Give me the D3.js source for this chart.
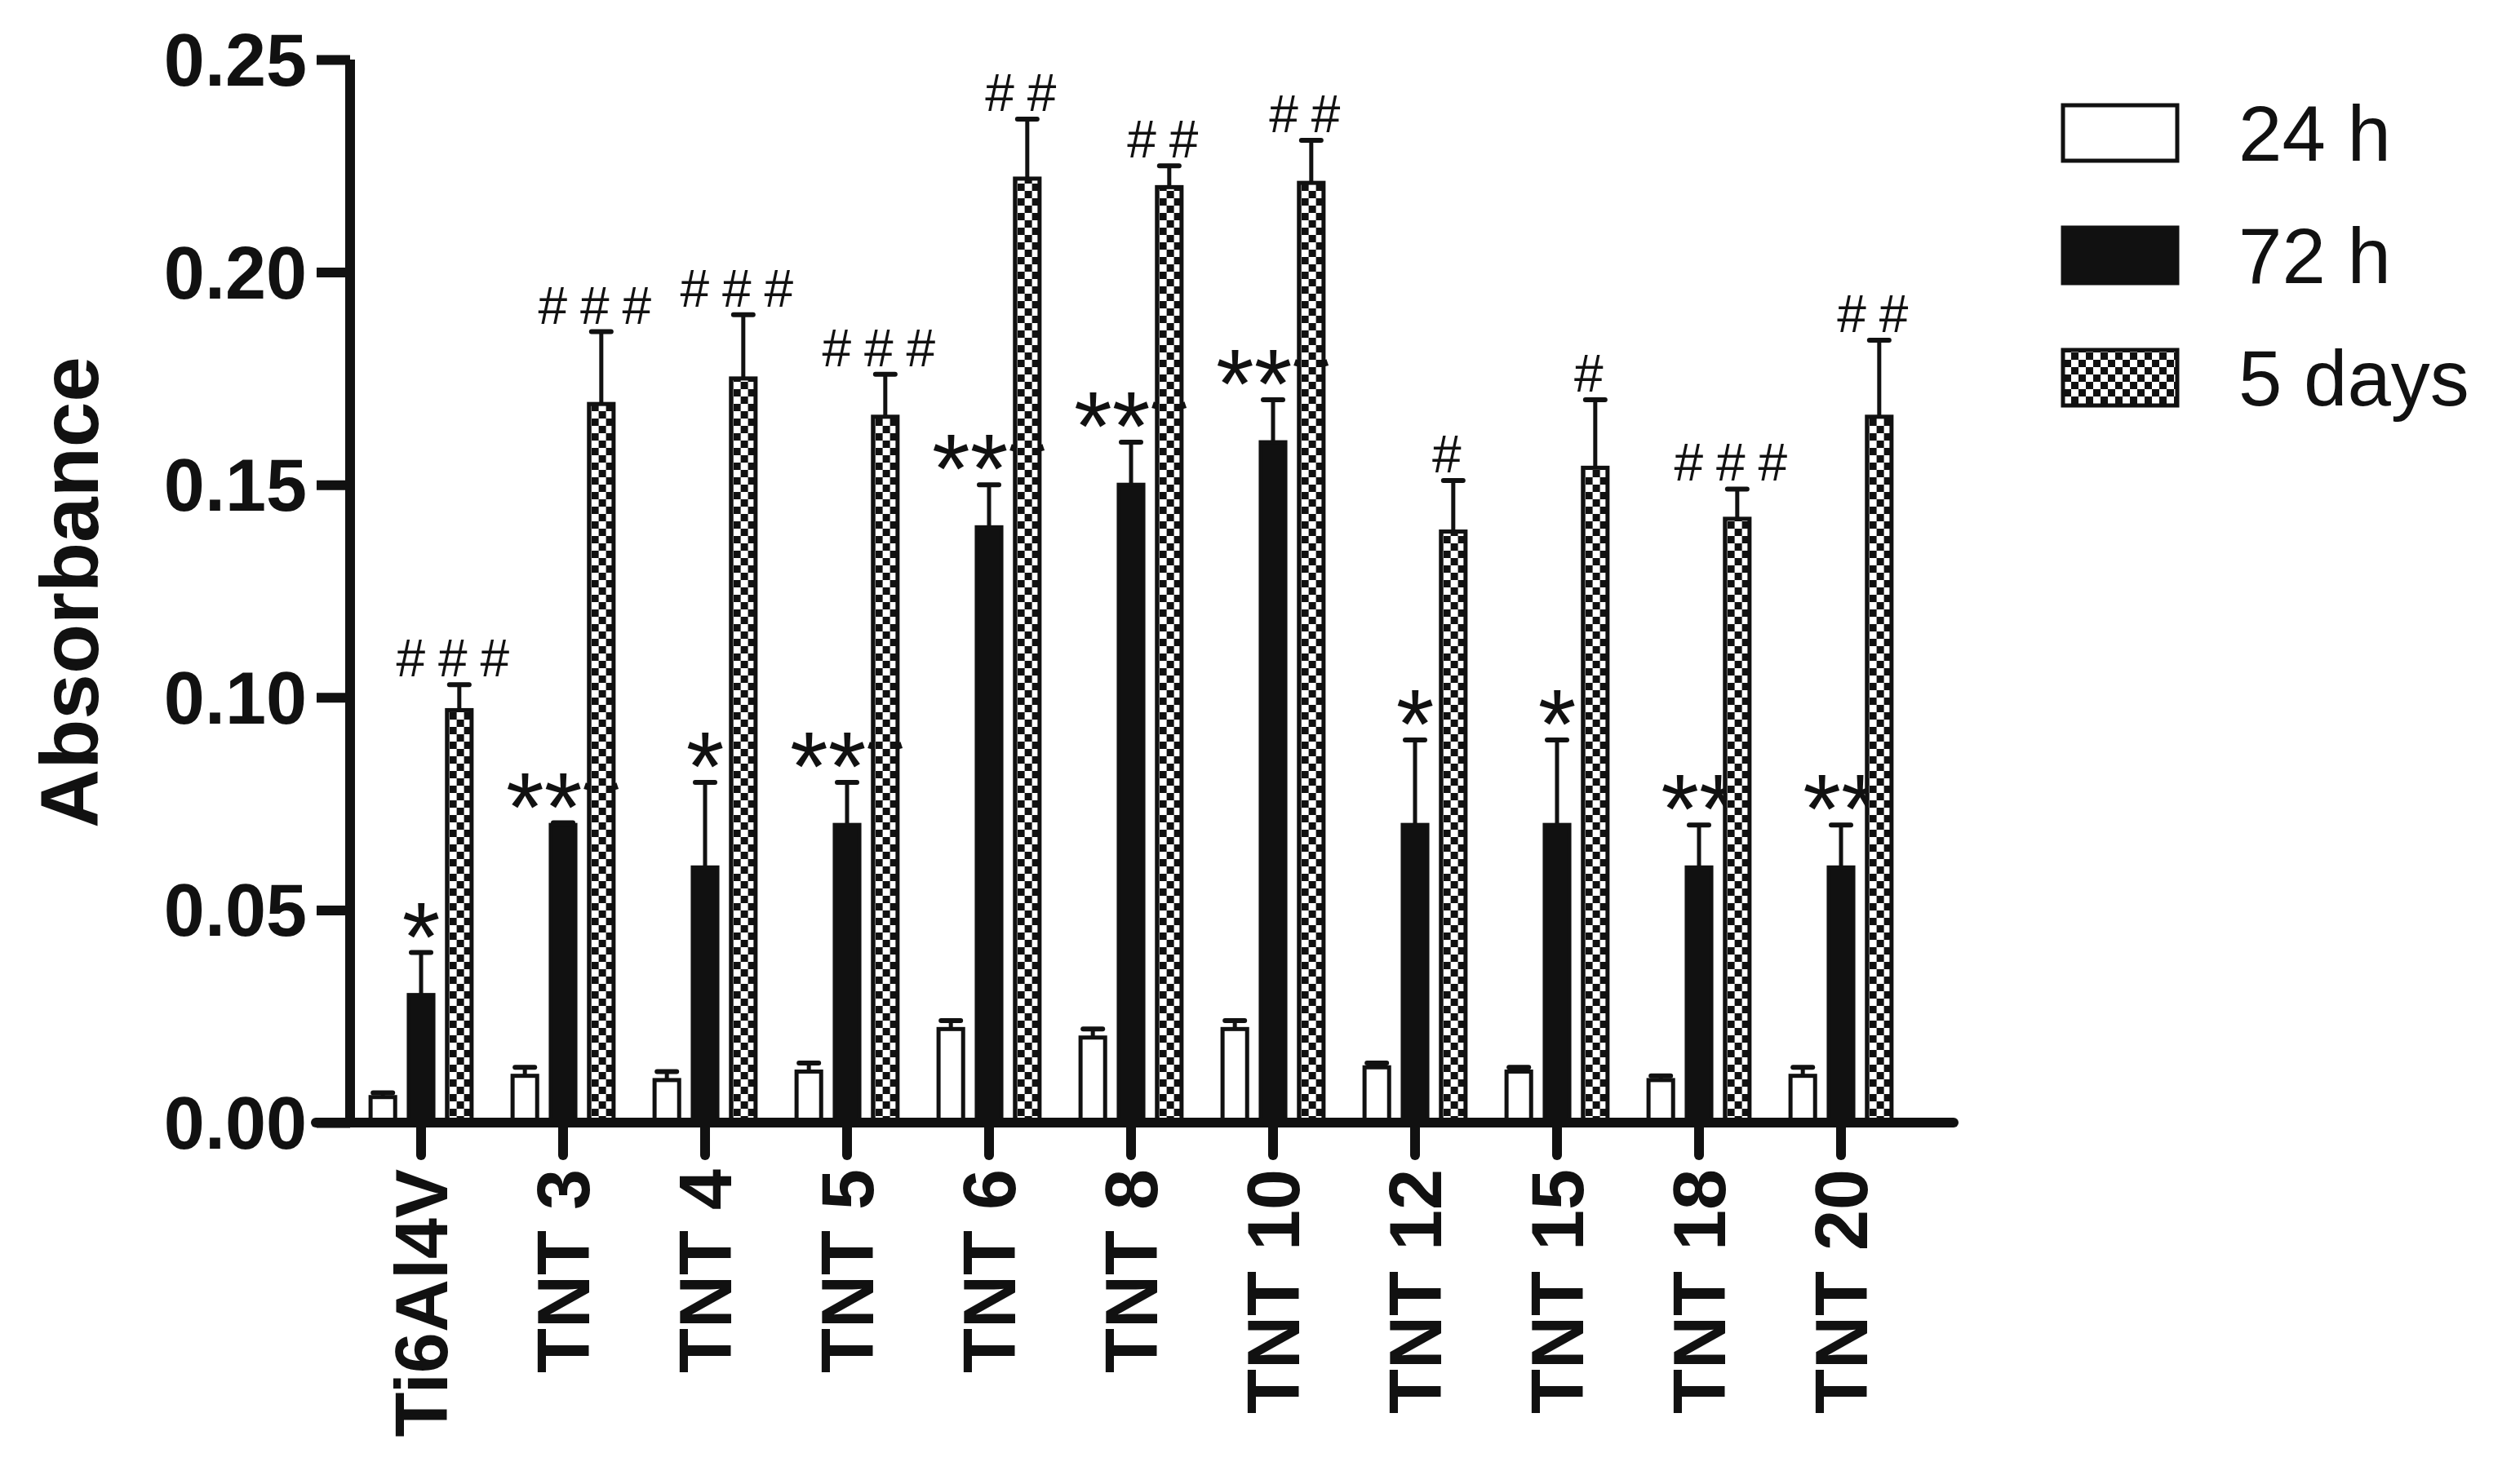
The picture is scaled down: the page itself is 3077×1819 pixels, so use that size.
<!DOCTYPE html>
<html><head><meta charset="utf-8">
<script src="https://cdn.jsdelivr.net/npm/d3@7"></script>
<style>body{margin:0;background:#fff}</style></head>
<body><svg id="c" width="3077" height="1819"></svg>
<script>
const categories=["Ti6Al4V","TNT 3","TNT 4","TNT 5","TNT 6","TNT 8","TNT 10","TNT 12","TNT 15","TNT 18","TNT 20"];
const seriesNames=["24 h","72 h","5 days"];
const v24=[0.006,0.011,0.010,0.012,0.022,0.020,0.022,0.013,0.012,0.010,0.011];
const e24=[0.001,0.002,0.002,0.002,0.002,0.002,0.002,0.001,0.001,0.001,0.002];
const v72=[0.03,0.07,0.06,0.07,0.14,0.15,0.16,0.07,0.07,0.06,0.06];
const e72=[0.01,0.0005,0.02,0.01,0.01,0.01,0.01,0.02,0.02,0.01,0.01];
const v5d=[0.097,0.169,0.175,0.166,0.222,0.220,0.221,0.139,0.154,0.142,0.166];
const e5d=[0.006,0.017,0.015,0.010,0.014,0.005,0.010,0.012,0.016,0.007,0.018];
const stars=["*","***","*","***","***","***","***","*","*","**","**"];
const hashes=["###","###","###","###","##","##","##","#","#","###","##"];
const yTicks=[0,0.05,0.10,0.15,0.20,0.25];

const svg=d3.select("#c");
const defs=svg.append("defs");
const p=defs.append("pattern").attr("id","chk").attr("patternUnits","userSpaceOnUse").attr("width",18).attr("height",18);
p.append("rect").attr("width",18).attr("height",18).attr("fill","#fff");
p.append("rect").attr("width",9).attr("height",9).attr("fill","#111");
p.append("rect").attr("x",9).attr("y",9).attr("width",9).attr("height",9).attr("fill","#111");

const x0=429, x1=2394, yTop=73, yBot=1376;
const x=d3.scaleBand().domain(categories).range([429,2343]).paddingInner(0.26).paddingOuter(0.13);
const y=d3.scaleLinear().domain([0,0.25]).range([yBot,yTop]);
const xs=d3.scaleBand().domain(seriesNames).range([0,x.bandwidth()]).paddingInner(0.25);
const fills=["#fff","#111","url(#chk)"];
const vals=[v24,v72,v5d], errs=[e24,e72,e5d];
const ink="#111";

categories.forEach((c,i)=>{
  const g=svg.append("g").attr("transform",`translate(${x(c)},0)`);
  seriesNames.forEach((s,k)=>{
    const bx=xs(s), bw=xs.bandwidth(), v=vals[k][i], e=errs[k][i];
    const cx=bx+bw/2;
    g.append("line").attr("x1",cx).attr("x2",cx).attr("y1",y(v)).attr("y2",y(v+e)).attr("stroke",ink).attr("stroke-width",5);
    g.append("line").attr("x1",cx-12).attr("x2",cx+12).attr("y1",y(v+e)).attr("y2",y(v+e)).attr("stroke",ink).attr("stroke-width",6).attr("stroke-linecap","round");
    g.append("rect").attr("x",bx+2.5).attr("y",y(v)).attr("width",bw-5).attr("height",yBot-y(v))
      .attr("fill",fills[k]).attr("stroke",ink).attr("stroke-width",5);
    if(k===1) g.append("text").attr("x",cx).attr("y",y(v+e)+22).attr("text-anchor","middle")
      .attr("font-family","Liberation Sans, Arial").attr("font-size",120).attr("fill",ink).text(stars[i]);
    if(k===2) g.append("text").attr("x",cx).attr("y",y(v+e)-10).attr("text-anchor","middle")
      .attr("font-family","Liberation Sans, Arial").attr("font-size",64).attr("letter-spacing",16).attr("fill",ink).text(hashes[i]);
  });
});

// y axis
const ya=svg.append("g").attr("transform",`translate(${x0},0)`)
  .call(d3.axisLeft(y).tickValues(yTicks).tickFormat(d3.format(".2f")).tickSize(41).tickPadding(12));
ya.select(".domain").remove();
ya.append("line").attr("x1",0).attr("x2",0).attr("y1",yTop).attr("y2",yBot).attr("stroke",ink).attr("stroke-width",12);
ya.selectAll(".tick line").attr("stroke",ink).attr("stroke-width",12);
ya.selectAll("text").attr("font-family","Liberation Sans, Arial").attr("font-weight","bold").attr("font-size",90).attr("fill",ink).attr("dy","0.35em");

// x axis
const xa=svg.append("g").attr("transform",`translate(0,${yBot})`)
  .call(d3.axisBottom(x).tickSize(0).tickPadding(0));
xa.select(".domain").remove();
xa.append("line").attr("x1",387).attr("x2",x1).attr("y1",0).attr("y2",0).attr("stroke",ink).attr("stroke-width",12).attr("stroke-linecap","round");
xa.selectAll(".tick").append("line").attr("y1",0).attr("y2",40).attr("stroke",ink).attr("stroke-width",12).attr("stroke-linecap","round");
xa.selectAll(".tick text").attr("transform","rotate(-90)").attr("text-anchor","end").attr("x",-57).attr("y",0).attr("dy","0.35em")
  .attr("font-family","Liberation Sans, Arial").attr("font-weight","bold").attr("font-size",90).attr("fill",ink);

svg.append("text").attr("transform","translate(120,726) rotate(-90)").attr("text-anchor","middle")
  .attr("font-family","Liberation Sans, Arial").attr("font-weight","bold").attr("font-size",100).attr("fill",ink).text("Absorbance");

// legend
const ly=d3.scalePoint().domain(seriesNames).range([163,463]);
seriesNames.forEach((s,k)=>{
  svg.append("rect").attr("x",2528).attr("y",ly(s)-34).attr("width",140).attr("height",68).attr("fill",fills[k]).attr("stroke",ink).attr("stroke-width",5);
  svg.append("text").attr("x",2743).attr("y",ly(s)).attr("dy","0.35em").attr("font-family","Liberation Sans, Arial").attr("font-size",96).attr("fill",ink).text(s);
});
</script></body></html>
